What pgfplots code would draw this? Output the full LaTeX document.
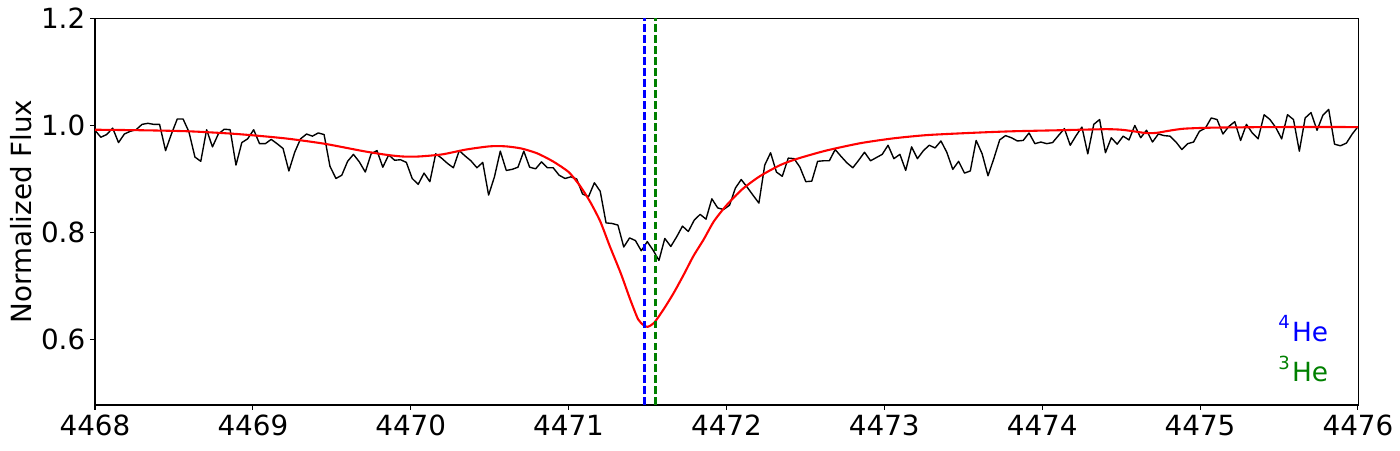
\documentclass[border=0pt]{standalone}
\usepackage{fontspec}
\setmainfont{DejaVu Sans}
\usepackage{pgfplots}
\pgfplotsset{compat=1.18}
\usepackage{pgfplotstable}

% observed spectrum (normalized)
\pgfplotstableread{
x y
4468.000 0.991
4468.037 0.978
4468.074 0.983
4468.112 0.995
4468.149 0.968
4468.186 0.984
4468.223 0.989
4468.260 0.992
4468.298 1.002
4468.335 1.004
4468.372 1.002
4468.409 1.002
4468.447 0.953
4468.484 0.984
4468.521 1.012
4468.558 1.012
4468.595 0.988
4468.633 0.941
4468.670 0.933
4468.707 0.992
4468.744 0.960
4468.781 0.984
4468.819 0.993
4468.856 0.992
4468.893 0.926
4468.930 0.968
4468.967 0.975
4469.005 0.992
4469.042 0.966
4469.079 0.966
4469.116 0.974
4469.153 0.966
4469.191 0.957
4469.228 0.915
4469.265 0.950
4469.302 0.975
4469.340 0.984
4469.377 0.980
4469.414 0.986
4469.451 0.983
4469.488 0.924
4469.526 0.901
4469.563 0.907
4469.600 0.933
4469.637 0.946
4469.674 0.932
4469.712 0.913
4469.749 0.947
4469.786 0.953
4469.823 0.922
4469.860 0.945
4469.898 0.935
4469.935 0.936
4469.972 0.931
4470.009 0.901
4470.047 0.890
4470.084 0.911
4470.121 0.895
4470.158 0.947
4470.195 0.939
4470.233 0.929
4470.270 0.921
4470.307 0.953
4470.344 0.943
4470.381 0.934
4470.419 0.921
4470.456 0.931
4470.493 0.870
4470.530 0.904
4470.567 0.952
4470.605 0.916
4470.642 0.918
4470.679 0.922
4470.716 0.952
4470.753 0.922
4470.791 0.919
4470.828 0.932
4470.865 0.921
4470.902 0.921
4470.940 0.907
4470.977 0.901
4471.014 0.904
4471.051 0.900
4471.088 0.872
4471.126 0.867
4471.163 0.893
4471.200 0.877
4471.237 0.818
4471.274 0.817
4471.312 0.814
4471.349 0.773
4471.386 0.790
4471.423 0.785
4471.460 0.766
4471.498 0.783
4471.535 0.767
4471.572 0.748
4471.609 0.789
4471.647 0.774
4471.684 0.792
4471.721 0.812
4471.758 0.802
4471.795 0.823
4471.833 0.834
4471.870 0.825
4471.907 0.863
4471.944 0.846
4471.981 0.843
4472.019 0.851
4472.056 0.883
4472.093 0.899
4472.130 0.885
4472.167 0.870
4472.205 0.855
4472.242 0.926
4472.279 0.949
4472.316 0.913
4472.353 0.905
4472.391 0.939
4472.428 0.938
4472.465 0.922
4472.502 0.895
4472.540 0.896
4472.577 0.933
4472.614 0.934
4472.651 0.934
4472.688 0.955
4472.726 0.942
4472.763 0.930
4472.800 0.921
4472.837 0.935
4472.874 0.950
4472.912 0.934
4472.949 0.940
4472.986 0.946
4473.023 0.963
4473.060 0.938
4473.098 0.946
4473.135 0.916
4473.172 0.960
4473.209 0.938
4473.247 0.953
4473.284 0.963
4473.321 0.958
4473.358 0.971
4473.395 0.950
4473.433 0.918
4473.470 0.933
4473.507 0.911
4473.544 0.915
4473.581 0.972
4473.619 0.947
4473.656 0.906
4473.693 0.938
4473.730 0.973
4473.767 0.981
4473.805 0.977
4473.842 0.971
4473.879 0.972
4473.916 0.986
4473.953 0.966
4473.991 0.969
4474.028 0.966
4474.065 0.968
4474.102 0.981
4474.140 0.994
4474.177 0.963
4474.214 0.981
4474.251 0.997
4474.288 0.947
4474.326 1.002
4474.363 1.011
4474.400 0.949
4474.437 0.977
4474.474 0.965
4474.512 0.980
4474.549 0.973
4474.586 1.000
4474.623 0.977
4474.660 0.991
4474.698 0.969
4474.735 0.984
4474.772 0.981
4474.809 0.980
4474.847 0.969
4474.884 0.955
4474.921 0.966
4474.958 0.969
4474.995 0.989
4475.033 0.995
4475.070 1.014
4475.107 1.011
4475.144 0.984
4475.181 0.998
4475.219 1.007
4475.256 0.972
4475.293 1.002
4475.330 0.986
4475.367 0.975
4475.405 1.020
4475.442 1.011
4475.479 0.996
4475.516 0.975
4475.553 1.020
4475.591 1.011
4475.628 0.952
4475.665 1.014
4475.702 1.024
4475.740 0.991
4475.777 1.019
4475.814 1.030
4475.851 0.965
4475.888 0.962
4475.926 0.967
4475.963 0.984
4476.000 0.998
}\spectrum

% model profile
\pgfplotstableread{
x y
4468.00 0.992
4468.30 0.991
4468.60 0.989
4468.90 0.984
4469.20 0.976
4469.45 0.966
4469.70 0.952
4469.85 0.945
4469.95 0.942
4470.05 0.942
4470.20 0.946
4470.35 0.955
4470.50 0.961
4470.60 0.961
4470.70 0.957
4470.80 0.948
4470.90 0.933
4471.00 0.913
4471.07 0.888
4471.135 0.858
4471.20 0.821
4471.26 0.775
4471.33 0.724
4471.39 0.675
4471.44 0.638
4471.475 0.627
4471.50 0.624
4471.54 0.631
4471.60 0.656
4471.665 0.687
4471.73 0.722
4471.79 0.756
4471.855 0.787
4471.92 0.821
4472.00 0.851
4472.10 0.881
4472.21 0.905
4472.34 0.926
4472.45 0.938
4472.63 0.953
4472.85 0.967
4473.06 0.976
4473.27 0.982
4473.54 0.986
4473.80 0.989
4474.10 0.991
4474.40 0.993
4474.50 0.992
4474.58 0.989
4474.65 0.986
4474.72 0.986
4474.80 0.990
4474.90 0.994
4475.10 0.996
4475.50 0.997
4476.00 0.997
}\model

\begin{document}
\begin{tikzpicture}
\path[use as bounding box] (-68.4pt,-32.4pt) rectangle (939.6pt,291.6pt);
\begin{axis}[
  scale only axis,
  width=909.4pt, height=278.4pt,
  xmin=4468, xmax=4476, ymin=0.478, ymax=1.2,
  xtick={4468,4469,...,4476},
  ytick={0.6,0.8,1.0,1.2},
  tick align=outside, tick pos=left,
  major tick length=3.5pt,
  every tick/.style={black, line width=0.8pt},
  axis line style={line width=0.8pt},
  /pgf/number format/assume math mode=true,
  ticklabel style={font=\fontsize{20}{24}\selectfont},
  x tick label style={/pgf/number format/1000 sep={}},
  y tick label style={/pgf/number format/.cd, fixed, fixed zerofill, precision=1},
  ylabel={Normalized Flux},
  ylabel style={font=\fontsize{20}{24}\selectfont},
]
\addplot[black, line width=1pt, line join=round] table[x=x, y=y] {\spectrum};
\addplot[red, line width=1.5pt, smooth, tension=0.4] table[x=x, y=y] {\model};
\addplot[blue, line width=1.8pt, dash pattern=on 5.5pt off 2.4pt] coordinates {(4471.48,0.478) (4471.48,1.2)};
\addplot[green!50!black, line width=1.8pt, dash pattern=on 5.5pt off 2.4pt] coordinates {(4471.55,0.478) (4471.55,1.2)};
\node[anchor=base east, inner sep=0, text=blue, font=\fontsize{19}{23}\selectfont]
  at (rel axis cs:0.9765,0.1655) {\raisebox{8.8pt}{\fontsize{13}{15}\selectfont 4}\hspace{1.5pt}He};
\node[anchor=base east, inner sep=0, text=green!50!black, font=\fontsize{19}{23}\selectfont]
  at (rel axis cs:0.9765,0.0603) {\raisebox{8.8pt}{\fontsize{13}{15}\selectfont 3}\hspace{1.5pt}He};
\end{axis}
\end{tikzpicture}
\end{document}
